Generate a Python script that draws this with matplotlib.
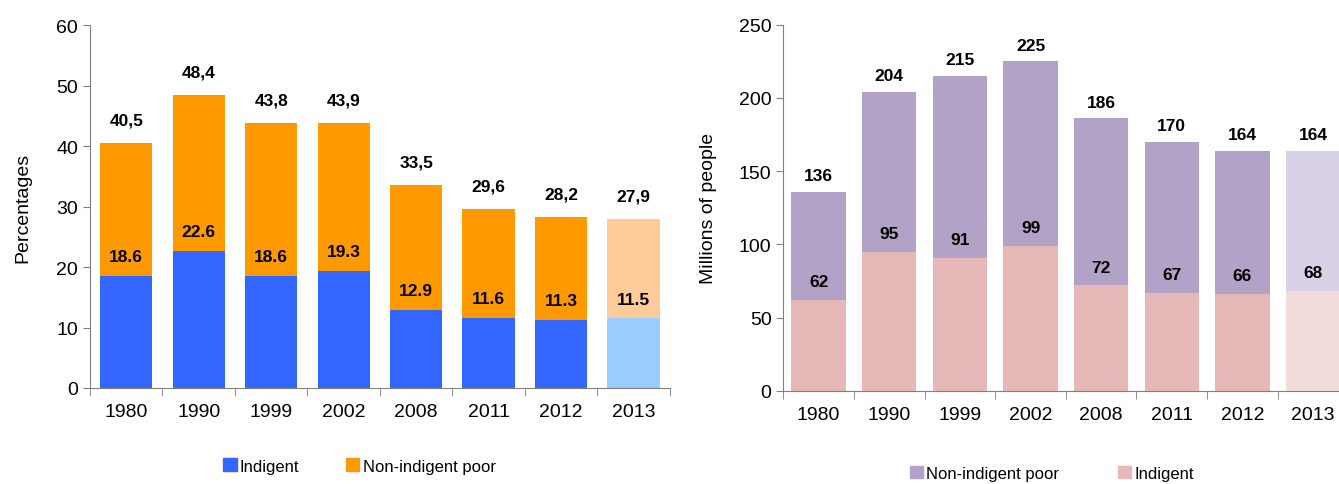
import matplotlib
matplotlib.use("Agg")
import matplotlib.pyplot as plt
from matplotlib.patches import Patch
import numpy as np

plt.rcParams['font.family'] = ['Liberation Sans', 'DejaVu Sans']

years = ['1980', '1990', '1999', '2002', '2008', '2011', '2012', '2013']

# left: percentages
pct_indigent = [18.6, 22.6, 18.6, 19.3, 12.9, 11.6, 11.3, 11.5]
pct_total = [40.5, 48.4, 43.8, 43.9, 33.5, 29.6, 28.2, 27.9]
pct_total_labels = ['40,5', '48,4', '43,8', '43,9', '33,5', '29,6', '28,2', '27,9']

# right: millions of people
mil_indigent = [62, 95, 91, 99, 72, 67, 66, 68]
mil_total = [136, 204, 215, 225, 186, 170, 164, 164]

bold_font = ['Liberation Sans Narrow', 'Liberation Sans', 'DejaVu Sans']

fig = plt.figure(figsize=(13.39, 4.85), dpi=100)


def style_axes(ax, ymax, ystep):
    ax.set_ylim(0, ymax)
    ax.set_xlim(-0.5, len(years) - 0.5)
    ax.set_yticks(np.arange(0, ymax + 1, ystep))
    ax.spines['top'].set_visible(False)
    ax.spines['right'].set_visible(False)
    ax.spines['left'].set_color('#808080')
    ax.spines['bottom'].set_color('#808080')
    ax.set_xticks(range(len(years)))
    ax.set_xticklabels(years, fontsize=14)
    ax.tick_params(axis='x', which='major', length=0, pad=11)
    ax.set_xticks(np.arange(-0.5, len(years), 1), minor=True)
    ax.tick_params(axis='x', which='minor', length=6, color='#808080')
    ax.tick_params(axis='y', length=5, color='#808080', labelsize=14)


# ---- left chart
ax1 = fig.add_axes([0.0672, 0.198, 0.433, 0.748])
x = np.arange(len(years))
nonind = [t - i for t, i in zip(pct_total, pct_indigent)]
c_ind = ['#3366FF'] * 7 + ['#99CCFF']
c_non = ['#FF9900'] * 7 + ['#FFCC99']
ax1.bar(x, pct_indigent, width=0.72, color=c_ind)
ax1.bar(x, nonind, bottom=pct_indigent, width=0.72, color=c_non)
for i in range(len(years)):
    ax1.text(x[i], pct_total[i] + 3.8, pct_total_labels[i], ha='center', va='center',
             fontsize=12.5, fontweight='bold', family=bold_font)
    ax1.text(x[i], pct_indigent[i] + 3.2, f'{pct_indigent[i]:.1f}', ha='center', va='center',
             fontsize=12.5, fontweight='bold', family=bold_font)
style_axes(ax1, 60, 10)
ax1.set_ylabel('Percentages', fontsize=14, labelpad=18)
ax1.legend(handles=[Patch(color='#3366FF', label='Indigent'),
                    Patch(color='#FF9900', label='Non-indigent poor')],
           loc='center', bbox_to_anchor=(0.465, -0.215), ncol=2, frameon=False,
           fontsize=12, handlelength=0.8, handleheight=0.8, handletextpad=0.2,
           columnspacing=2.8)

# ---- right chart
ax2 = fig.add_axes([0.585, 0.192, 0.422, 0.755])
nonind2 = [t - i for t, i in zip(mil_total, mil_indigent)]
c_ind2 = ['#E6B9B8'] * 7 + ['#F2DCDB']
c_non2 = ['#B3A2C7'] * 7 + ['#D9D1E6']
ax2.bar(x, mil_indigent, width=0.77, color=c_ind2)
ax2.bar(x, nonind2, bottom=mil_indigent, width=0.77, color=c_non2)
for i in range(len(years)):
    ax2.text(x[i], mil_total[i] + 11, str(mil_total[i]), ha='center', va='center',
             fontsize=12.5, fontweight='bold', family=bold_font)
    ax2.text(x[i], mil_indigent[i] + 12.5, str(mil_indigent[i]), ha='center', va='center',
             fontsize=12.5, fontweight='bold', family=bold_font)
style_axes(ax2, 250, 50)
ax2.set_ylabel('Millions of people', fontsize=14, labelpad=16)
ax2.legend(handles=[Patch(color='#B3A2C7', label='Non-indigent poor'),
                    Patch(color='#E6B9B8', label='Indigent')],
           loc='center', bbox_to_anchor=(0.475, -0.225), ncol=2, frameon=False,
           fontsize=12, handlelength=0.8, handleheight=0.8, handletextpad=0.2,
           columnspacing=3.5)

fig.savefig('out.png', dpi=100)
